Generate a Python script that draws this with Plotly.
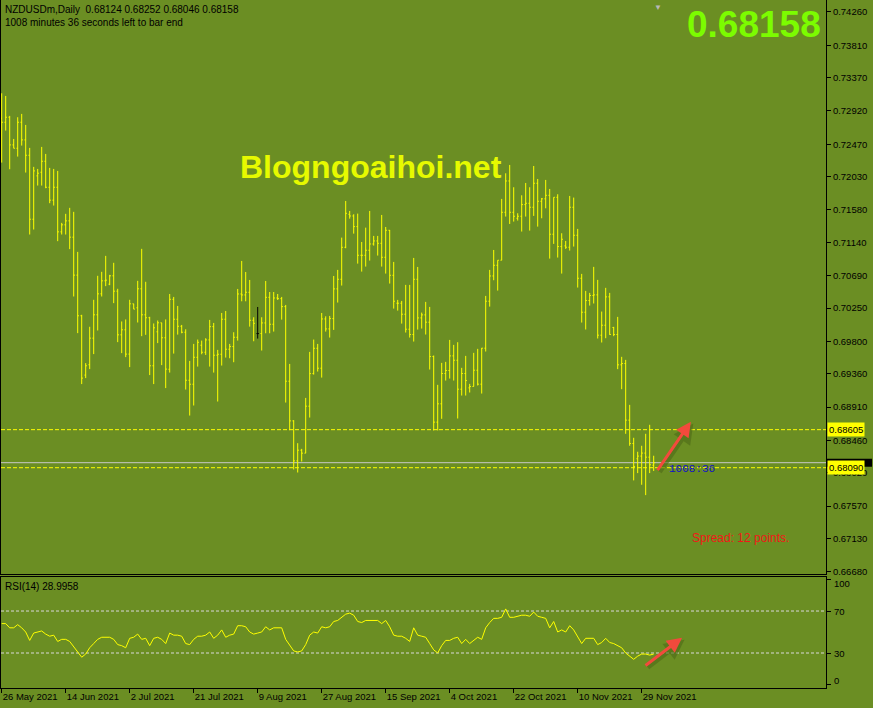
import plotly.graph_objects as go

# ---------------- data ----------------
symbol = "NZDUSDm,Daily"
opens = [0.72821,0.72767,0.72835,0.72460,0.72415,0.72767,0.72528,0.72320,0.71454,0.72041,
         0.72090,0.72239,0.71887,0.71712,0.71887,0.71283,0.71378,0.71432,0.71211,0.70697,
         0.70147,0.69344,0.69484,0.69844,0.70160,0.70444,0.70620,0.70575,0.70688,0.70480,
         0.69889,0.69957,0.69628,0.70309,0.70255,0.70512,0.70160,0.70120,0.69470,0.69930,
         0.70052,0.69849,0.69423,0.70370,0.70100,0.70005,0.69924,0.69274,0.69220,0.69585,
         0.69748,0.69653,0.69820,0.70000,0.69613,0.69626,0.70100,0.69694,0.69730,0.69856,
         0.70442,0.70429,0.70465,0.70086,0.69906,0.69906,0.70050,0.70397,0.70032,0.70388,
         0.70379,0.70271,0.69261,0.68724,0.68183,0.68327,0.68287,0.68923,0.69364,0.69707,
         0.69437,0.70104,0.69969,0.70109,0.70511,0.70641,0.71074,0.71521,0.71498,0.71354,
         0.70966,0.70966,0.71034,0.71119,0.71160,0.71128,0.70939,0.71304,0.70695,0.70317,
         0.70317,0.70168,0.69965,0.69893,0.70641,0.70118,0.70159,0.70060,0.69595,0.68707,
         0.68955,0.69365,0.69406,0.69604,0.69545,0.69153,0.69365,0.69171,0.69189,0.69410,
         0.69221,0.69708,0.70344,0.70686,0.70831,0.70899,0.71548,0.71972,0.71548,0.71467,
         0.71494,0.71652,0.71670,0.71616,0.71941,0.71697,0.71730,0.71778,0.71251,0.71751,
         0.71084,0.71093,0.71075,0.71616,0.71237,0.70655,0.70195,0.70353,0.70421,0.70430,
         0.69884,0.70019,0.70403,0.69988,0.69893,0.69483,0.69501,0.68734,0.68418,0.68211,
         0.68247,0.68288,0.68233,0.68124]
highs = [0.73159,0.73123,0.72853,0.72541,0.72835,0.72880,0.72731,0.72420,0.72163,0.72135,
         0.72433,0.72338,0.72149,0.72135,0.72108,0.71405,0.71527,0.71608,0.71554,0.71012,
         0.70160,0.69506,0.69998,0.70363,0.70688,0.70742,0.70958,0.70701,0.70864,0.70512,
         0.70070,0.70097,0.70363,0.70309,0.70620,0.71053,0.70607,0.70133,0.70043,0.70083,
         0.70052,0.70097,0.70442,0.70402,0.70280,0.70023,0.69964,0.69536,0.69766,0.69825,
         0.69811,0.69843,0.70091,0.70050,0.69685,0.70185,0.70212,0.69766,0.69924,0.70510,
         0.70889,0.70740,0.70632,0.70127,0.70266,0.70127,0.70618,0.70469,0.70469,0.70442,
         0.70402,0.70294,0.69495,0.68733,0.68422,0.68345,0.69035,0.69658,0.69825,0.69766,
         0.70185,0.70140,0.70145,0.70686,0.70768,0.71205,0.71701,0.71566,0.71521,0.71530,
         0.71146,0.71340,0.71566,0.71228,0.71228,0.71512,0.71349,0.71309,0.70876,0.70362,
         0.70348,0.70565,0.70565,0.70930,0.70808,0.70190,0.70335,0.70267,0.69609,0.69212,
         0.69509,0.69523,0.69820,0.69753,0.69789,0.69442,0.69604,0.69225,0.69645,0.69699,
         0.69712,0.70416,0.70768,0.71038,0.70899,0.71729,0.72076,0.72189,0.71887,0.71535,
         0.71778,0.71945,0.71887,0.72175,0.71999,0.71742,0.71986,0.71864,0.71751,0.71792,
         0.71264,0.71160,0.71769,0.71747,0.71323,0.70714,0.70484,0.70457,0.70809,0.70633,
         0.70204,0.70525,0.70457,0.69997,0.70132,0.69591,0.69550,0.68941,0.68495,0.68306,
         0.68387,0.68549,0.68671,0.68252]
lows = [0.72221,0.72654,0.72131,0.72415,0.72302,0.72451,0.72086,0.71247,0.71315,0.71910,
        0.71910,0.71874,0.71671,0.71639,0.71157,0.71247,0.71247,0.71049,0.70408,0.69912,
        0.69222,0.69303,0.69425,0.69628,0.69948,0.70408,0.70548,0.70561,0.70318,0.69790,
        0.69641,0.69587,0.69452,0.70237,0.70056,0.69871,0.69889,0.69344,0.69222,0.69777,
        0.69479,0.69168,0.69378,0.69635,0.69892,0.69910,0.69148,0.68796,0.68932,0.69459,
        0.69626,0.69617,0.69459,0.69378,0.68986,0.69473,0.69581,0.69572,0.69518,0.69811,
        0.70343,0.70343,0.70000,0.69802,0.69838,0.69676,0.69910,0.69910,0.69933,0.70361,
        0.70095,0.68972,0.68598,0.68066,0.68025,0.68174,0.68287,0.68769,0.69351,0.69392,
        0.69310,0.69933,0.69852,0.69956,0.70326,0.70556,0.71061,0.71462,0.71259,0.70853,
        0.70745,0.70813,0.70894,0.71097,0.70962,0.70813,0.70718,0.70583,0.70244,0.70217,
        0.70041,0.69920,0.69852,0.69798,0.69960,0.69974,0.69893,0.69419,0.68594,0.68594,
        0.68752,0.69270,0.69297,0.69270,0.68756,0.69067,0.69067,0.69108,0.69189,0.69203,
        0.69094,0.69663,0.70271,0.70628,0.70488,0.70899,0.71490,0.71390,0.71422,0.71436,
        0.71287,0.71490,0.71300,0.71499,0.71354,0.71467,0.71602,0.70921,0.71120,0.70935,
        0.70718,0.71052,0.71030,0.71084,0.70529,0.70055,0.69961,0.70285,0.70313,0.69839,
        0.69785,0.69843,0.69889,0.69871,0.69424,0.69153,0.68549,0.68387,0.67918,0.68017,
        0.67859,0.67719,0.68017,0.68046]
closes = [0.72767,0.72835,0.72460,0.72415,0.72767,0.72528,0.72320,0.71454,0.72108,0.72077,
          0.72239,0.71887,0.71712,0.71887,0.71283,0.71378,0.71432,0.71211,0.70697,0.70147,
          0.69303,0.69470,0.69844,0.70160,0.70444,0.70620,0.70629,0.70688,0.70480,0.69889,
          0.69957,0.69628,0.70309,0.70237,0.70512,0.70160,0.70120,0.69470,0.69984,0.70052,
          0.69849,0.69425,0.70370,0.70100,0.70005,0.69924,0.69274,0.69220,0.69585,0.69788,
          0.69653,0.69820,0.70000,0.69613,0.69626,0.70100,0.69694,0.69730,0.69856,0.70442,
          0.70429,0.70465,0.70086,0.70045,0.69906,0.70050,0.70397,0.70032,0.70388,0.70379,
          0.70271,0.69261,0.68724,0.68183,0.68327,0.68287,0.68923,0.69364,0.69707,0.69437,
          0.70104,0.69969,0.70109,0.70511,0.70641,0.71074,0.71534,0.71498,0.71354,0.70966,
          0.70966,0.71034,0.71119,0.71160,0.71128,0.70939,0.71304,0.70695,0.70344,0.70317,
          0.70168,0.69965,0.69893,0.70641,0.70118,0.70159,0.70060,0.69595,0.68707,0.68955,
          0.69365,0.69406,0.69604,0.69545,0.69153,0.69365,0.69270,0.69189,0.69410,0.69221,
          0.69708,0.70344,0.70686,0.70831,0.70899,0.71548,0.71972,0.71548,0.71494,0.71494,
          0.71652,0.71670,0.71616,0.71941,0.71697,0.71730,0.71778,0.71251,0.71751,0.71084,
          0.71183,0.71075,0.71616,0.71237,0.70655,0.70195,0.70353,0.70421,0.70430,0.69884,
          0.70019,0.70403,0.69893,0.69893,0.69483,0.69501,0.68734,0.68418,0.68107,0.68247,
          0.68288,0.68233,0.68130,0.68158]
rsi = [58,58,54,54,57,54,50,42,49,50,
       51,48,46,47,41,43,43,41,36,31,
       26,29,35,39,43,45,45,45,43,38,
       37,35,44,45,48,43,44,37,44,45,
       43,39,49,47,47,46,39,38,43,46,
       46,47,50,44,47,52,45,47,48,56,
       56,55,50,48,49,50,55,52,54,54,
       54,43,37,32,31,32,38,47,50,49,
       55,54,55,60,61,64,67,68,66,60,
       59,61,61,61,61,58,61,55,47,46,
       46,44,41,54,47,46,45,39,33,30,
       37,42,42,44,45,39,43,39,42,45,
       43,54,59,63,63,64,72,64,64,65,
       66,66,65,69,65,64,63,54,60,50,
       52,50,56,52,45,39,44,44,44,38,
       40,44,40,39,37,35,30,27,24,27,
       29,29,28,28.9958]
selected_bar = 64
date_tick_bars = [0, 16, 32, 48, 64, 80, 96, 112, 128, 144, 160]
date_tick_labels = ["26 May 2021", "14 Jun 2021", "2 Jul 2021", "21 Jul 2021", "9 Aug 2021",
                    "27 Aug 2021", "15 Sep 2021", "4 Oct 2021", "22 Oct 2021", "10 Nov 2021",
                    "29 Nov 2021"]
price_ticks = [0.74260, 0.73810, 0.73370, 0.72920, 0.72470, 0.72030, 0.71580, 0.71140,
               0.70690, 0.70250, 0.69800, 0.69360, 0.68910, 0.68460, 0.68020, 0.67570,
               0.67130, 0.66680]
rsi_ticks = [0, 30, 70, 100]
level_lines = [0.68605, 0.68090]
rsi_levels = [30, 70]
minutes_left, seconds_left = 1008, 36
spread_points = 12

# ---------------- figure ----------------
BG = "#6B8E23"
YEL = "#FFFF00"
FONT = "Liberation Sans"
n = len(closes)
idx = list(range(n))
norm = [i for i in idx if i != selected_bar]

fig = go.Figure()
fig.add_trace(go.Ohlc(
    x=norm, open=[opens[i] for i in norm], high=[highs[i] for i in norm],
    low=[lows[i] for i in norm], close=[closes[i] for i in norm],
    increasing=dict(line=dict(color=YEL, width=1)),
    decreasing=dict(line=dict(color=YEL, width=1)),
    tickwidth=0.3, hoverinfo="skip", xaxis="x", yaxis="y", showlegend=False))
fig.add_trace(go.Ohlc(
    x=[selected_bar], open=[opens[selected_bar]], high=[highs[selected_bar]],
    low=[lows[selected_bar]], close=[closes[selected_bar]],
    increasing=dict(line=dict(color="#000000", width=1)),
    decreasing=dict(line=dict(color="#000000", width=1)),
    tickwidth=0.3, hoverinfo="skip", xaxis="x", yaxis="y", showlegend=False))
fig.add_trace(go.Scatter(x=idx, y=rsi, mode="lines", line=dict(color=YEL, width=1),
                         hoverinfo="skip", xaxis="x2", yaxis="y2", showlegend=False))

xr = [-0.175, 206.08]
shapes = []
for lv in level_lines:
    shapes.append(dict(type="line", xref="x domain", x0=0, x1=1, yref="y", y0=lv, y1=lv,
                       line=dict(color=YEL, width=1, dash="4px,2px"), layer="below"))
shapes.append(dict(type="line", xref="x domain", x0=0, x1=1, yref="y", y0=closes[-1], y1=closes[-1],
                   line=dict(color="#C8C8C8", width=1), layer="below"))
for lv in rsi_levels:
    shapes.append(dict(type="line", xref="x2 domain", x0=0, x1=1, yref="y2", y0=lv, y1=lv,
                       line=dict(color="#D8D8D8", width=1, dash="3px,2px"), layer="below"))
# current-price marker box on the price scale (mostly hidden behind the 0.68090 label)
shapes.append(dict(type="rect", xref="paper", yref="y", x0=1.001, x1=1.0558,
                   y0=closes[-1] - 0.00054, y1=closes[-1] + 0.00054,
                   fillcolor="#000000", line=dict(width=0), layer="above"))

small = dict(family=FONT, size=10, color="#000000")
ann = []
ann.append(dict(xref="paper", yref="paper", x=0.002, y=0.9855, xanchor="left", yanchor="middle",
                text=f"{symbol}\u00a0\u00a0{opens[-1]:.5f} {highs[-1]:.5f} {lows[-1]:.5f} {closes[-1]:.5f}",
                showarrow=False, font=small))
ann.append(dict(xref="paper", yref="paper", x=0.002, y=0.9666, xanchor="left", yanchor="middle",
                text=f"{minutes_left} minutes {seconds_left} seconds left to bar end",
                showarrow=False, font=small))
ann.append(dict(xref="paper", yref="paper", x=0.996, y=0.965, xanchor="right", yanchor="middle",
                text=f"<b>{closes[-1]:.5f}</b>", showarrow=False,
                font=dict(family=FONT, size=37, color="#7CFC00")))
ann.append(dict(xref="paper", yref="paper", x=0.448, y=0.757, xanchor="center", yanchor="middle",
                text="<b>Blogngoaihoi.net</b>", showarrow=False,
                font=dict(family=FONT, size=32, color="#E6FA00")))
ann.append(dict(xref="x", yref="y", x=166.3, y=0.68072, xanchor="left", yanchor="middle",
                text=f"{minutes_left}:{seconds_left}", showarrow=False,
                font=dict(family="Liberation Mono", size=11, color="#1010C8")))
ann.append(dict(xref="x", yref="y", x=172.1, y=0.67138, xanchor="left", yanchor="middle",
                text=f"Spread: {spread_points} points.", showarrow=False,
                font=dict(family=FONT, size=12, color="#F01818")))
ann.append(dict(xref="paper", yref="paper", x=0.002, y=0.148, xanchor="left", yanchor="middle",
                text=f"RSI(14) {rsi[-1]:.4f}", showarrow=False, font=small))
ann.append(dict(xref="paper", yref="paper", x=0.796, y=0.998, xanchor="center", yanchor="top",
                text="▼", showarrow=False, font=dict(family=FONT, size=8, color="#B8B8B8")))
# level labels on the price scale
for lv in level_lines:
    ann.append(dict(xref="paper", yref="y", x=1, y=lv, xanchor="left", yanchor="middle",
                    xshift=1, text=f"{lv:.5f}", showarrow=False, bgcolor=YEL,
                    borderpad=1, font=dict(family=FONT, size=9.5, color="#000000")))
# RSI scale labels, placed inside the panel edges as in the terminal
for v in rsi_ticks:
    pos = min(max(v, 3.6), 96.4)
    ann.append(dict(xref="paper", yref="y2", x=1, y=pos, xanchor="left", yanchor="middle",
                    xshift=6, text=str(v), showarrow=False,
                    font=dict(family=FONT, size=9.5, color="#000000")))
# arrows (shadow + red)
RED = "#F24A3C"
SH = "#4E6A18"
for (hx, hy, tx, ty, xr_, yr_, dy) in [(172.3, 0.68713, 163.7, 0.68036, "x", "y", -0.00025),
                                       (170.1, 44.6, 160.6, 17.0, "x2", "y2", -2.0)]:
    ann.append(dict(xref=xr_, yref=yr_, axref=xr_, ayref=yr_, x=hx + 0.6, y=hy + dy,
                    ax=tx + 0.6, ay=ty + dy, text="", showarrow=True, arrowhead=2,
                    arrowsize=1, arrowwidth=4, arrowcolor=SH, opacity=0.6))
    ann.append(dict(xref=xr_, yref=yr_, axref=xr_, ayref=yr_, x=hx, y=hy, ax=tx, ay=ty,
                    text="", showarrow=True, arrowhead=2, arrowsize=1, arrowwidth=3,
                    arrowcolor=RED))

axis_common = dict(showgrid=False, zeroline=False, showline=True, mirror=True,
                   linecolor="#000000", linewidth=1)
fig.update_layout(
    width=873, height=708,
    margin=dict(l=1, r=47, t=0, b=20),
    paper_bgcolor=BG, plot_bgcolor=BG,
    hovermode=False, dragmode=False,
    xaxis=dict(domain=[0, 1], anchor="y", range=xr, showticklabels=False, ticks="",
               rangeslider=dict(visible=False), **axis_common),
    yaxis=dict(domain=[0.1657, 1], anchor="x", side="right", range=[0.66651, 0.74422],
               tickvals=price_ticks, ticktext=[f"{v:.5f}" for v in price_ticks],
               ticks="outside", ticklen=4, tickcolor="#000000",
               tickfont=dict(family=FONT, size=9.5, color="#000000"), **axis_common),
    xaxis2=dict(domain=[0, 1], anchor="y2", range=xr, tickvals=date_tick_bars,
                ticktext=date_tick_labels, ticklabelposition="outside right",
                ticks="outside", ticklen=4, tickcolor="#000000",
                tickfont=dict(family=FONT, size=9.5, color="#000000"),
                rangeslider=dict(visible=False), **axis_common),
    yaxis2=dict(domain=[0, 0.16134], anchor="x2", side="right", range=[-3.33, 102.4],
                tickvals=rsi_ticks, showticklabels=False,
                ticks="outside", ticklen=4, tickcolor="#000000", **axis_common),
    shapes=shapes, annotations=ann,
)
fig.write_html("out.html", config={"staticPlot": True},
               post_script="document.body.style.margin='0';document.body.style.overflow='hidden';")
